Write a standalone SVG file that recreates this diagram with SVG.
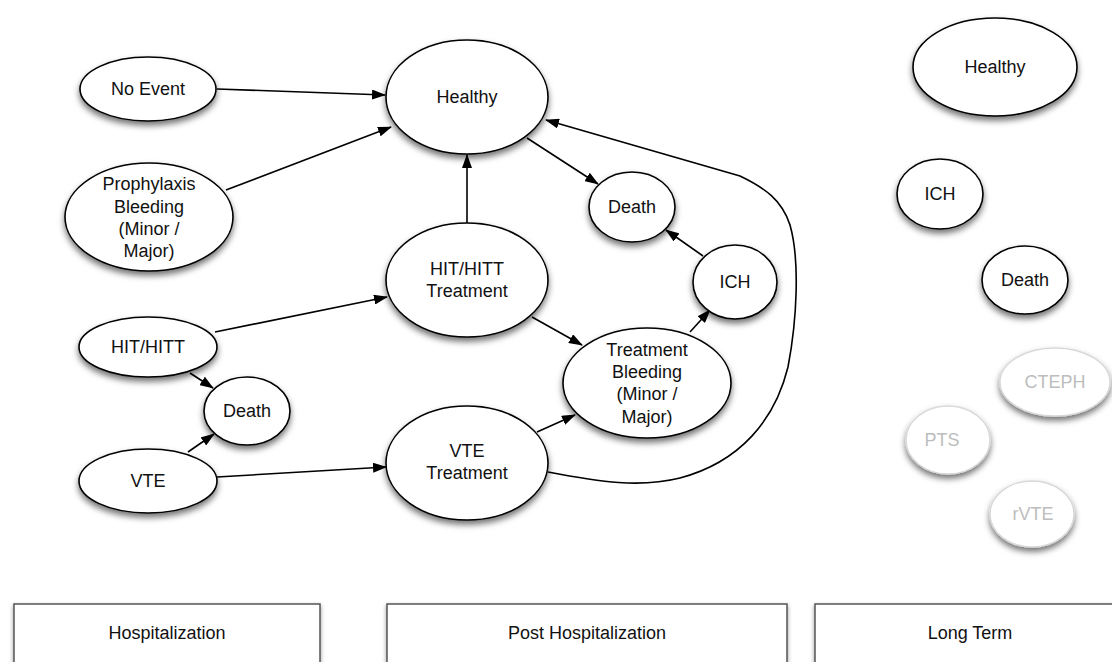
<svg xmlns="http://www.w3.org/2000/svg" width="1112" height="662" viewBox="0 0 1112 662">
<defs>
<filter id="sh" x="-30%" y="-30%" width="160%" height="170%">
<feDropShadow dx="0" dy="4" stdDeviation="3" flood-color="#000" flood-opacity="0.55"/>
</filter>
<filter id="shb" x="-5%" y="-20%" width="110%" height="150%">
<feDropShadow dx="0" dy="2" stdDeviation="2" flood-color="#000" flood-opacity="0.4"/>
</filter>
<marker id="ah" viewBox="0 0 14 10" refX="13" refY="5" markerWidth="14" markerHeight="10" markerUnits="userSpaceOnUse" orient="auto">
<path d="M0,0 L14,5 L0,10 Z" fill="#000"/>
</marker>
</defs>
<style>
.n{fill:#fff;stroke:#000;stroke-width:1.6;filter:url(#sh)}
.g{fill:#fff;stroke:#d8d8d8;stroke-width:1.4;filter:url(#sh)}
.t{font-family:"Liberation Sans",Arial,sans-serif;font-size:18px;fill:#111;text-anchor:middle}
.tg{font-family:"Liberation Sans",Arial,sans-serif;font-size:18px;fill:#bdbdbd;text-anchor:middle}
.c{fill:none;stroke:#000;stroke-width:1.6;marker-end:url(#ah)}
.b{fill:#fff;stroke:#555;stroke-width:1.5;filter:url(#shb)}
.bt{font-family:"Liberation Sans",Arial,sans-serif;font-size:18px;fill:#111;text-anchor:middle}
</style>
<rect width="1112" height="662" fill="#fff"/>

<g id="connectors">
<line class="c" x1="217" y1="89" x2="385" y2="95"/>
<line class="c" x1="226" y1="190" x2="391" y2="127"/>
<line class="c" x1="467" y1="223" x2="467" y2="155"/>
<line class="c" x1="527" y1="138" x2="598" y2="184"/>
<line class="c" x1="703" y1="256" x2="666" y2="230"/>
<path class="c" d="M548,472 C600,482 640,488 680,478 C740,462 775,420 788,367 C797,320 800,260 790,225 C782,200 765,188 740,176 L546,120"/>
<line class="c" x1="215" y1="332" x2="387" y2="297"/>
<line class="c" x1="190" y1="373" x2="213" y2="388"/>
<line class="c" x1="188" y1="452" x2="214" y2="434"/>
<line class="c" x1="217" y1="477" x2="386" y2="467"/>
<line class="c" x1="532" y1="317" x2="582" y2="345"/>
<line class="c" x1="537" y1="432" x2="575" y2="415"/>
<line class="c" x1="690" y1="332" x2="710" y2="310"/>
</g>

<g id="no-event"><ellipse class="n" cx="148" cy="89" rx="68" ry="32"/><text class="t" x="148" y="95">No Event</text></g>
<g id="prophylaxis-bleeding"><ellipse class="n" cx="149" cy="217" rx="84" ry="54"/>
<text class="t" x="149" y="190">Prophylaxis</text><text class="t" x="149" y="213">Bleeding</text><text class="t" x="149" y="235">(Minor /</text><text class="t" x="149" y="257">Major)</text></g>
<g id="hit-hitt"><ellipse class="n" cx="148" cy="347" rx="69" ry="30"/><text class="t" x="148" y="353">HIT/HITT</text></g>
<g id="death-hosp"><ellipse class="n" cx="247" cy="411" rx="43" ry="34"/><text class="t" x="247" y="417">Death</text></g>
<g id="vte"><ellipse class="n" cx="148" cy="481" rx="69" ry="32"/><text class="t" x="148" y="487">VTE</text></g>

<g id="healthy"><ellipse class="n" cx="467" cy="97" rx="81" ry="57"/><text class="t" x="467" y="103">Healthy</text></g>
<g id="hit-hitt-treatment"><ellipse class="n" cx="467" cy="280" rx="81" ry="57"/><text class="t" x="467" y="275">HIT/HITT</text><text class="t" x="467" y="297">Treatment</text></g>
<g id="vte-treatment"><ellipse class="n" cx="467" cy="463" rx="81" ry="57"/><text class="t" x="467" y="457">VTE</text><text class="t" x="467" y="479">Treatment</text></g>
<g id="death-post"><ellipse class="n" cx="632" cy="207" rx="43" ry="35"/><text class="t" x="632" y="213">Death</text></g>
<g id="ich-post"><ellipse class="n" cx="735" cy="282" rx="42" ry="37"/><text class="t" x="735" y="288">ICH</text></g>
<g id="treatment-bleeding"><ellipse class="n" cx="647" cy="383" rx="84" ry="55"/>
<text class="t" x="647" y="356">Treatment</text><text class="t" x="647" y="378">Bleeding</text><text class="t" x="647" y="400">(Minor /</text><text class="t" x="647" y="423">Major)</text></g>

<g id="healthy-lt"><ellipse class="n" cx="995" cy="67" rx="82" ry="49"/><text class="t" x="995" y="73">Healthy</text></g>
<g id="ich-lt"><ellipse class="n" cx="940" cy="194" rx="43" ry="35"/><text class="t" x="940" y="200">ICH</text></g>
<g id="death-lt"><ellipse class="n" cx="1025" cy="280" rx="43" ry="34"/><text class="t" x="1025" y="286">Death</text></g>
<g id="cteph"><ellipse class="g" cx="1055" cy="382" rx="55" ry="34"/><text class="tg" x="1055" y="388">CTEPH</text></g>
<g id="pts"><ellipse class="g" cx="948" cy="440" rx="42" ry="34"/><text class="tg" x="942" y="446">PTS</text></g>
<g id="rvte"><ellipse class="g" cx="1032" cy="514" rx="42" ry="33"/><text class="tg" x="1033" y="520">rVTE</text></g>

<g id="hospitalization"><rect class="b" x="14" y="604" width="306" height="70"/><text class="bt" x="167" y="639">Hospitalization</text></g>
<g id="post-hospitalization"><rect class="b" x="387" y="604" width="400" height="70"/><text class="bt" x="587" y="639">Post Hospitalization</text></g>
<g id="long-term"><rect class="b" x="815" y="604" width="310" height="70"/><text class="bt" x="970" y="639">Long Term</text></g>
</svg>
